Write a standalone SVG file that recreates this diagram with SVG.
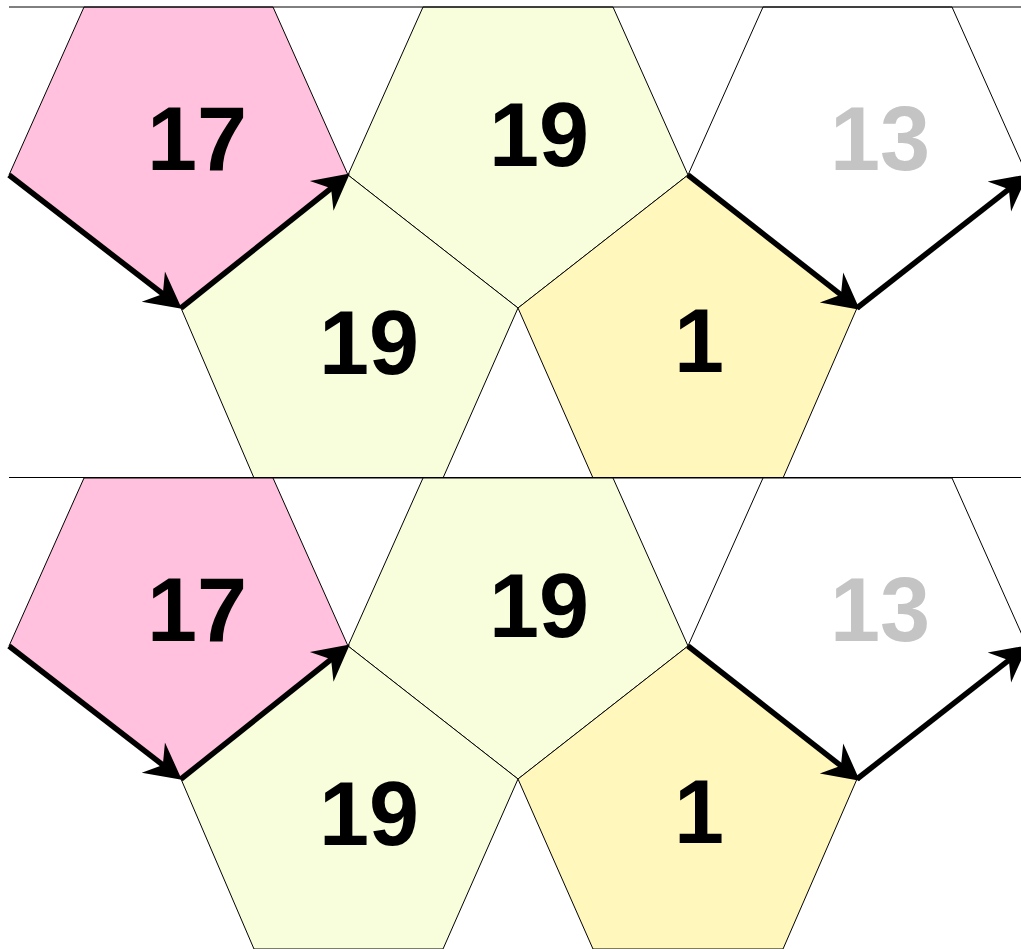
<svg xmlns="http://www.w3.org/2000/svg" width="1021" height="949" viewBox="0 0 1021 949">
  <style>
    .tile { stroke: #000; stroke-width: 1; stroke-linejoin: miter; }
    .pink { fill: #ffc1dd; }
    .green { fill: #f8fddc; }
    .yellow { fill: #fff7bc; }
    .white { fill: #ffffff; }
    .lbl { font-family: "Liberation Sans", Arial, sans-serif; font-weight: bold; font-size: 90px; text-anchor: middle; fill: #000; }
    .lbl.gray { fill: #c4c4c4; }
    .arrow { stroke: #000; stroke-width: 5.5; fill: none; marker-end: url(#head); }
    .rule { stroke: #000; stroke-width: 1; }
  </style>
  <defs>
    <marker id="head" markerUnits="userSpaceOnUse" orient="auto" refX="0" refY="0" markerWidth="40" markerHeight="40" overflow="visible">
      <path d="M21,0 L-15,-19 L-3,0 L-15,19 Z" fill="#000"/>
    </marker>
  </defs>
  <rect x="0" y="0" width="1021" height="949" fill="#fff"/>

  <!-- top strip -->
  <g id="strip-top">
    <g id="t-p17"><polygon class="tile pink" points="9,175 84,7 273,7 348,175 181,308"/><text class="lbl" x="197" y="170">17</text></g>
    <g id="t-p19a"><polygon class="tile green" points="348,175 423,7 613,7 688,175 518,308"/><text class="lbl" x="539" y="166">19</text></g>
    <g id="t-p19b"><polygon class="tile green" points="181,308 348,175 518,308 443,478 254,478"/><text class="lbl" x="369" y="374">19</text></g>
    <g id="t-p1"><polygon class="tile yellow" points="518,308 688,175 857,308 783,478 593,478"/><text class="lbl" x="699" y="372">1</text></g>
    <g id="t-p13"><polygon class="tile white" points="688,175 763,7 952,7 1027,175 857,308"/><text class="lbl gray" x="880" y="170">13</text></g>
    <line class="rule" x1="9" y1="7" x2="1021" y2="7"/>
  </g>

  <!-- bottom strip -->
  <g id="strip-bottom">
    <g id="b-p17"><polygon class="tile pink" points="9,646 84,478 273,478 348,646 181,779"/><text class="lbl" x="197" y="641">17</text></g>
    <g id="b-p19a"><polygon class="tile green" points="348,646 423,478 613,478 688,646 518,779"/><text class="lbl" x="539" y="637">19</text></g>
    <g id="b-p19b"><polygon class="tile green" points="181,779 348,646 518,779 443,949 254,949"/><text class="lbl" x="369" y="845">19</text></g>
    <g id="b-p1"><polygon class="tile yellow" points="518,779 688,646 857,779 783,949 593,949"/><text class="lbl" x="699" y="843">1</text></g>
    <g id="b-p13"><polygon class="tile white" points="688,646 763,478 952,478 1027,646 857,779"/><text class="lbl gray" x="880" y="641">13</text></g>
    <line class="rule" x1="9" y1="477.5" x2="1021" y2="477.5"/>
  </g>

  <!-- connectors -->
  <g id="connectors">
    <line class="arrow" x1="9" y1="175" x2="165.2" y2="295.8"/>
    <line class="arrow" x1="181" y1="308" x2="333.4" y2="186.5"/>
    <line class="arrow" x1="688" y1="175" x2="843.3" y2="296.7"/>
    <line class="arrow" x1="857" y1="308" x2="1011.2" y2="187.3"/>
    <line class="arrow" x1="9" y1="646" x2="165.2" y2="766.8"/>
    <line class="arrow" x1="181" y1="779" x2="333.4" y2="657.5"/>
    <line class="arrow" x1="688" y1="646" x2="843.3" y2="767.7"/>
    <line class="arrow" x1="857" y1="779" x2="1011.2" y2="658.3"/>
  </g>
</svg>
